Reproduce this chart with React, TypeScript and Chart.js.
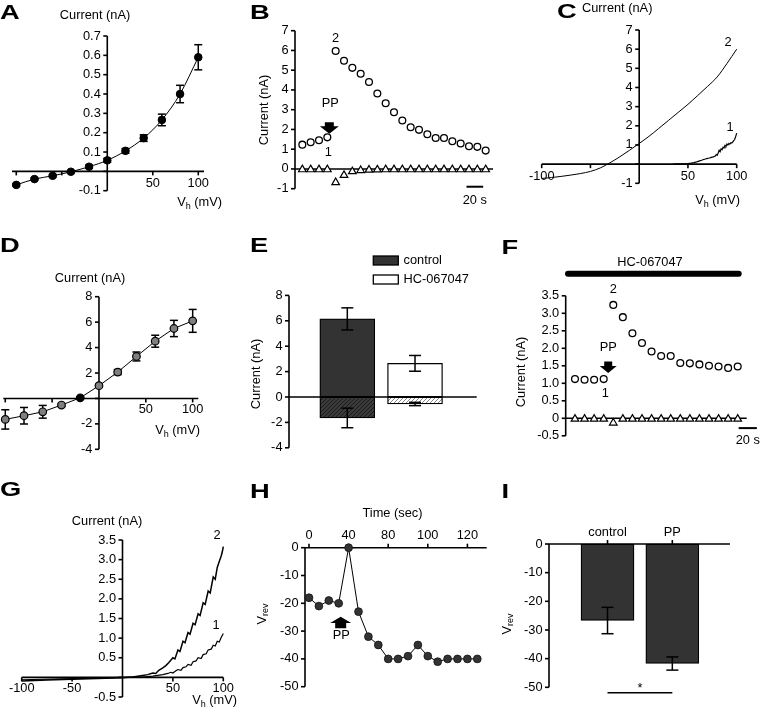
import React, { useEffect, useRef } from 'react';
import { Chart, registerables } from 'chart.js';

Chart.register(...registerables);

const FF = '"Liberation Sans", Arial, Helvetica, sans-serif';
const FS = 12.8;

// ---------------- Panel A ----------------
const aVoltage = [-100, -80, -60, -40, -20, 0, 20, 40, 60, 80, 100];
const aCurrent = [-0.07, -0.04, -0.023, -0.002, 0.024, 0.057, 0.106, 0.172, 0.266, 0.4, 0.59];
const aError = [0.006, 0.006, 0.006, 0.006, 0.008, 0.01, 0.012, 0.017, 0.03, 0.045, 0.065];
const aYTicks = [-0.1, 0, 0.1, 0.2, 0.3, 0.4, 0.5, 0.6, 0.7];
const aYLabels = ['-0.1', '', '0.1', '0.2', '0.3', '0.4', '0.5', '0.6', '0.7'];
const aXTicks = [-100, -50, 50, 100];
const aXLabels = ['', '', '50', '100'];

// ---------------- Panel B ----------------
const bTime = [0, 10, 20, 30, 40, 50, 60, 70, 80, 90, 100, 110, 120, 130, 140, 150, 160, 170, 180, 190, 200, 210, 220];
const bOutward = [1.23, 1.35, 1.45, 1.6, 5.97, 5.48, 5.12, 4.82, 4.4, 3.82, 3.33, 2.87, 2.45, 2.11, 1.98, 1.76, 1.57, 1.57, 1.4, 1.29, 1.15, 1.12, 0.93];
const bInward = [-0.03, -0.03, -0.03, -0.03, -0.68, -0.32, -0.13, -0.07, -0.05, -0.04, -0.03, -0.03, -0.03, -0.03, -0.03, -0.03, -0.03, -0.03, -0.03, -0.03, -0.03, -0.03, -0.03];
const bYTicks = [-1, 0, 1, 2, 3, 4, 5, 6, 7];
const bYLabels = ['-1', '0', '1', '2', '3', '4', '5', '6', '7'];

// ---------------- Panel C ----------------
const cVoltage2 = [-100, -90, -80, -70, -60, -50, -40, -30, -20, -10, 0, 10, 20, 30, 40, 50, 60, 70, 80, 90, 100];
const cCurrent2 = [-0.75, -0.7, -0.64, -0.57, -0.49, -0.38, -0.2, 0.07, 0.38, 0.72, 1.08, 1.45, 1.86, 2.28, 2.7, 3.12, 3.58, 4.05, 4.55, 5.25, 6.0];
const cVoltage1 = [35, 40, 45, 50, 53, 56, 59, 62, 64, 66, 68, 70, 72, 74, 76, 78, 79, 80, 81, 82, 83, 84, 85, 86, 87, 88, 89, 90, 91, 92, 93, 94, 95, 96, 97, 98, 99, 100];
const cCurrent1 = [0, 0.01, 0.01, 0.03, 0.05, 0.08, 0.12, 0.17, 0.2, 0.24, 0.27, 0.3, 0.32, 0.35, 0.38, 0.42, 0.5, 0.46, 0.58, 0.72, 0.65, 0.8, 0.75, 0.88, 0.84, 0.98, 0.93, 1.05, 1.0, 1.08, 1.04, 1.12, 1.1, 1.16, 1.22, 1.3, 1.45, 1.62];
const cYTicks = [-1, 0, 1, 2, 3, 4, 5, 6, 7];
const cYLabels = ['-1', '', '1', '2', '3', '4', '5', '6', '7'];
const cXTicks = [-100, -50, 50, 100];
const cXLabels = ['-100', '', '50', '100'];

// ---------------- Panel D ----------------
const dVoltage = [-100, -80, -60, -40, -20, 0, 20, 40, 60, 80, 100];
const dCurrent = [-1.65, -1.36, -1.05, -0.52, 0.05, 1.0, 2.07, 3.3, 4.5, 5.5, 6.1];
const dError = [0.76, 0.65, 0.5, 0.12, 0.05, 0.12, 0.2, 0.35, 0.47, 0.64, 0.9];
const dYTicks = [-4, -2, 0, 2, 4, 6, 8];
const dYLabels = ['-4', '-2', '', '2', '4', '6', '8'];
const dXTicks = [-100, -50, 50, 100];
const dXLabels = ['', '', '50', '100'];

// ---------------- Panel E ----------------
const eGroups = ['control', 'HC-067047'];
const eOutward = [6.15, 2.65];
const eOutwardErr = [0.87, 0.62];
const eInward = [-1.65, -0.55];
const eInwardErr = [0.77, 0.13];
const eYTicks = [-4, -2, 0, 2, 4, 6, 8];
const eYLabels = ['-4', '-2', '0', '2', '4', '6', '8'];

// ---------------- Panel F ----------------
const fTime = [0, 10, 20, 30, 40, 50, 60, 70, 80, 90, 100, 110, 120, 130, 140, 150, 160, 170];
const fOutward = [1.12, 1.1, 1.1, 1.12, 3.24, 2.89, 2.43, 2.15, 1.91, 1.78, 1.78, 1.58, 1.57, 1.54, 1.5, 1.48, 1.44, 1.48];
const fInward = [-0.02, -0.02, -0.02, -0.02, -0.13, -0.02, -0.02, -0.02, -0.02, -0.02, -0.02, -0.02, -0.02, -0.02, -0.02, -0.02, -0.02, -0.02];
const fYTicks = [-0.5, 0, 0.5, 1, 1.5, 2, 2.5, 3, 3.5];
const fYLabels = ['-0.5', '0', '0.5', '1.0', '1.5', '2.0', '2.5', '3.0', '3.5'];

// ---------------- Panel G ----------------
const gVoltage2 = [-100, -75, -50, -25, 0, 10, 20, 25, 30, 33, 36, 40, 43, 46, 50, 52, 55, 57, 60, 62, 65, 67, 70, 72, 75, 77, 80, 82, 85, 87, 90, 92, 94, 96, 98, 99, 100];
const gCurrent2 = [-0.09, -0.07, -0.05, -0.03, -0.01, 0.01, 0.05, 0.07, 0.11, 0.1, 0.18, 0.24, 0.3, 0.38, 0.5, 0.47, 0.7, 0.66, 0.92, 0.88, 1.14, 1.1, 1.38, 1.34, 1.62, 1.58, 1.9, 1.86, 2.2, 2.15, 2.56, 2.5, 2.8, 2.95, 3.1, 3.2, 3.33];
const gVoltage1 = [-100, -50, 0, 10, 20, 25, 30, 35, 40, 45, 48, 50, 53, 55, 58, 60, 63, 65, 68, 70, 73, 75, 78, 80, 83, 85, 88, 90, 92, 94, 96, 98, 100];
const gCurrent1 = [-0.06, -0.03, 0, 0.005, 0.01, 0.02, 0.03, 0.05, 0.07, 0.1, 0.13, 0.11, 0.17, 0.2, 0.18, 0.25, 0.27, 0.33, 0.31, 0.4, 0.42, 0.5, 0.48, 0.58, 0.6, 0.7, 0.72, 0.82, 0.8, 0.92, 0.9, 1.02, 1.12];
const gYTicks = [-0.5, 0, 0.5, 1, 1.5, 2, 2.5, 3, 3.5];
const gYLabels = ['-0.5', '', '0.5', '1.0', '1.5', '2.0', '2.5', '3.0', '3.5'];
const gXTicks = [-100, -50, 50, 100];
const gXLabels = ['-100', '-50', '50', '100'];

// ---------------- Panel H ----------------
const hTime = [0, 10, 20, 30, 40, 50, 60, 70, 80, 90, 100, 110, 120, 130, 140, 150, 160, 170];
const hVrev = [-18, -21, -19, -20, 0, -23, -32, -35, -40, -40, -39, -35, -39, -41, -40, -40, -40, -40];
const hYTicks = [-50, -40, -30, -20, -10, 0];
const hYLabels = ['-50', '-40', '-30', '-20', '-10', '0'];
const hXTicks = [0, 40, 80, 120, 160];
const hXLabels = ['0', '40', '80', '100', '120'];

// ---------------- Panel I ----------------
const iGroups = ['control', 'PP'];
const iVrev = [-26.7, -41.7];
const iErr = [4.6, 2.3];
const iYTicks = [-50, -40, -30, -20, -10, 0];
const iYLabels = ['-50', '-40', '-30', '-20', '-10', '0'];

// ================= drawing helpers =================
type Ctx = CanvasRenderingContext2D;
type Map = (v: number) => number;
type Draw = (ctx: Ctx, X: Map, Y: Map) => void;
type Part = [string, boolean];

function setFont(ctx: Ctx, size = FS, bold = false) {
  ctx.font = `${bold ? 'bold ' : ''}${size}px ${FF}`;
}
function text(ctx: Ctx, s: string, x: number, y: number, align: CanvasTextAlign = 'center', size = FS, bold = false) {
  setFont(ctx, size, bold);
  ctx.textAlign = align;
  ctx.textBaseline = 'middle';
  ctx.fillStyle = '#000';
  ctx.fillText(s, x, y);
}
function letter(ctx: Ctx, s: string, x: number, y: number) {
  ctx.save();
  ctx.translate(x, y);
  ctx.scale(1.3, 1);
  text(ctx, s, 0, 0, 'left', 21, true);
  ctx.restore();
}
function seg(ctx: Ctx, x1: number, y1: number, x2: number, y2: number, w = 1.6) {
  ctx.beginPath();
  ctx.moveTo(x1, y1);
  ctx.lineTo(x2, y2);
  ctx.lineWidth = w;
  ctx.strokeStyle = '#000';
  ctx.lineCap = 'butt';
  ctx.stroke();
}
function richText(ctx: Ctx, parts: Part[], x: number, y: number, align: 'left' | 'center' | 'right') {
  const widths = parts.map(([s, sub]) => {
    setFont(ctx, sub ? 9 : FS);
    return ctx.measureText(s).width;
  });
  const total = widths.reduce((a, b) => a + b, 0);
  let cx = align === 'left' ? x : align === 'right' ? x - total : x - total / 2;
  ctx.textAlign = 'left';
  ctx.textBaseline = 'alphabetic';
  ctx.fillStyle = '#000';
  parts.forEach(([s, sub], i) => {
    setFont(ctx, sub ? 9 : FS);
    ctx.fillText(s, cx, y + (sub ? 2.5 : 0));
    cx += widths[i];
  });
}
function rotText(ctx: Ctx, parts: Part[], x: number, y: number) {
  ctx.save();
  ctx.translate(x, y);
  ctx.rotate(-Math.PI / 2);
  richText(ctx, parts, 0, 4.5, 'center');
  ctx.restore();
}
const VH: Part[] = [['V', false], ['h', true], [' (mV)', false]];
const VREV: Part[] = [['V', false], ['rev', true]];
const CUR: Part[] = [['Current (nA)', false]];

function leftAxis(ctx: Ctx, X: Map, Y: Map, at: number, ticks: number[], labels: string[], from: number, to: number) {
  const x = X(at);
  seg(ctx, x, Y(from), x, Y(to));
  ticks.forEach((t, i) => {
    const y = Y(t);
    seg(ctx, x - 4, y, x, y);
    if (labels[i]) text(ctx, labels[i], x - 6.5, y, 'right');
  });
}
function bottomAxis(ctx: Ctx, X: Map, Y: Map, at: number, ticks: number[], labels: string[], from: number, to: number, off = 12) {
  const y = Y(at);
  seg(ctx, X(from), y, X(to), y);
  ticks.forEach((t, i) => {
    const x = X(t);
    seg(ctx, x, y, x, y + 4);
    if (labels[i]) text(ctx, labels[i], x, y + off);
  });
}
function topAxis(ctx: Ctx, X: Map, Y: Map, at: number, ticks: number[], labels: string[], from: number, to: number, off = 12.5) {
  const y = Y(at);
  seg(ctx, X(from), y, X(to), y);
  ticks.forEach((t, i) => {
    const x = X(t);
    seg(ctx, x, y - 4, x, y);
    if (labels[i]) text(ctx, labels[i], x, y - off);
  });
}
function errBar(ctx: Ctx, x: number, y1: number, y2: number, cap: number, w = 1.5) {
  seg(ctx, x, y1, x, y2, w);
  seg(ctx, x - cap / 2, y1, x + cap / 2, y1, w);
  seg(ctx, x - cap / 2, y2, x + cap / 2, y2, w);
}
function blockArrow(ctx: Ctx, cx: number, top: number, bottom: number, dir: 'down' | 'up', w = 19, stemW = 9, headH = 7.5) {
  ctx.beginPath();
  if (dir === 'down') {
    const hy = bottom - headH;
    ctx.moveTo(cx - stemW / 2, top);
    ctx.lineTo(cx + stemW / 2, top);
    ctx.lineTo(cx + stemW / 2, hy);
    ctx.lineTo(cx + w / 2, hy);
    ctx.lineTo(cx, bottom);
    ctx.lineTo(cx - w / 2, hy);
    ctx.lineTo(cx - stemW / 2, hy);
  } else {
    const hy = top + headH;
    ctx.moveTo(cx, top);
    ctx.lineTo(cx + w / 2, hy);
    ctx.lineTo(cx + stemW / 2, hy);
    ctx.lineTo(cx + stemW / 2, bottom);
    ctx.lineTo(cx - stemW / 2, bottom);
    ctx.lineTo(cx - stemW / 2, hy);
    ctx.lineTo(cx - w / 2, hy);
  }
  ctx.closePath();
  ctx.fillStyle = '#000';
  ctx.fill();
}
function hatch(bg: string, fg: string): CanvasPattern {
  const c = document.createElement('canvas');
  c.width = 4;
  c.height = 4;
  const g = c.getContext('2d')!;
  g.fillStyle = bg;
  g.fillRect(0, 0, 4, 4);
  g.strokeStyle = fg;
  g.lineWidth = 1;
  g.beginPath();
  g.moveTo(0, 4);
  g.lineTo(4, 0);
  g.moveTo(-1, 1);
  g.lineTo(1, -1);
  g.moveTo(3, 5);
  g.lineTo(5, 3);
  g.stroke();
  return g.createPattern(c, 'repeat')!;
}
const pts = (xs: number[], ys: number[]) => xs.map((x, i) => ({ x, y: ys[i] }));

// ================= panel specs =================
interface PanelSpec {
  rect: { x: number; y: number; w: number; h: number };
  area: { l: number; t: number; r: number; b: number };
  type: 'scatter' | 'bar';
  x: [number, number];
  y: [number, number];
  datasets: () => any[];
  before?: Draw;
  after?: Draw;
}

const openCircle = {
  showLine: false, pointStyle: 'circle', pointRadius: 3.4, pointBorderWidth: 1.3,
  pointBackgroundColor: '#fff', pointBorderColor: '#000', borderColor: '#000', clip: false,
};
const openTriangle = {
  showLine: false, pointStyle: 'triangle', pointRadius: 4.4, pointBorderWidth: 1.2,
  pointBackgroundColor: '#fff', pointBorderColor: '#000', borderColor: '#000', clip: false,
};

const panelA: PanelSpec = {
  rect: { x: 0, y: 0, w: 245, h: 228 },
  area: { l: 12, t: 36, r: 204, b: 190.7 },
  type: 'scatter',
  x: [-104.7, 106.3],
  y: [-0.1, 0.7],
  datasets: () => [{
    data: pts(aVoltage, aCurrent), showLine: true, cubicInterpolationMode: 'monotone',
    borderColor: '#000', borderWidth: 1, pointRadius: 3.8, pointBackgroundColor: '#000',
    pointBorderColor: '#000', pointBorderWidth: 1, clip: false,
  }],
  before: (ctx, X, Y) => {
    leftAxis(ctx, X, Y, 0, aYTicks, aYLabels, -0.1, 0.7);
    bottomAxis(ctx, X, Y, 0, aXTicks, aXLabels, -104.7, 106.3, 12);
    aVoltage.forEach((v, i) => errBar(ctx, X(v), Y(aCurrent[i] + aError[i]), Y(aCurrent[i] - aError[i]), 8));
  },
  after: (ctx) => {
    letter(ctx, 'A', 0, 13);
    text(ctx, 'Current (nA)', 95, 15);
    richText(ctx, VH, 222, 206, 'right');
  },
};

const panelB: PanelSpec = {
  rect: { x: 245, y: 0, w: 255, h: 228 },
  area: { l: 295, t: 30.7, r: 493, b: 188.7 },
  type: 'scatter',
  x: [-8.8, 228.8],
  y: [-1, 7],
  datasets: () => [
    { ...openTriangle, data: pts(bTime, bInward) },
    { ...openCircle, data: pts(bTime, bOutward) },
  ],
  before: (ctx, X, Y) => {
    leftAxis(ctx, X, Y, -8.8, bYTicks, bYLabels, -1, 7);
    seg(ctx, X(-8.8), Y(0), X(228.8), Y(0));
  },
  after: (ctx, X, Y) => {
    letter(ctx, 'B', 250, 13);
    rotText(ctx, CUR, 263, 110);
    const px = X(30), py = Y(bOutward[3]);
    text(ctx, '2', X(40), Y(bOutward[4]) - 13);
    text(ctx, 'PP', px + 3, py - 34);
    blockArrow(ctx, px + 2, py - 15, py - 3.5, 'down');
    text(ctx, '1', px + 1, py + 15);
    seg(ctx, X(197), Y(-0.9), X(217), Y(-0.9), 2);
    text(ctx, '20 s', X(207), Y(-0.9) + 13.5);
  },
};

const panelC: PanelSpec = {
  rect: { x: 500, y: 0, w: 260, h: 228 },
  area: { l: 541.7, t: 30, r: 736.7, b: 183.3 },
  type: 'scatter',
  x: [-100, 100],
  y: [-1, 7],
  datasets: () => [
    { data: pts(cVoltage2, cCurrent2), showLine: true, cubicInterpolationMode: 'monotone', borderColor: '#000', borderWidth: 1, pointRadius: 0, clip: false },
    { data: pts(cVoltage1, cCurrent1), showLine: true, borderColor: '#000', borderWidth: 1.2, pointRadius: 0, clip: false },
  ],
  before: (ctx, X, Y) => {
    leftAxis(ctx, X, Y, 0, cYTicks, cYLabels, -1, 7);
    bottomAxis(ctx, X, Y, 0, cXTicks, cXLabels, -100, 100, 12.7);
  },
  after: (ctx) => {
    letter(ctx, 'C', 557, 12);
    text(ctx, 'Current (nA)', 582, 8.5, 'left');
    text(ctx, '2', 728, 42);
    text(ctx, '1', 730, 127);
    richText(ctx, VH, 740, 204, 'right');
  },
};

const panelD: PanelSpec = {
  rect: { x: 0, y: 228, w: 245, h: 242 },
  area: { l: 3.3, t: 296.7, r: 198.3, b: 449.3 },
  type: 'scatter',
  x: [-102.1, 106],
  y: [-4, 8],
  datasets: () => [{
    data: pts(dVoltage, dCurrent), showLine: true, borderColor: '#000', borderWidth: 1,
    pointRadius: 3.8, pointBorderWidth: 1.2, pointBorderColor: '#000',
    pointBackgroundColor: dVoltage.map((v) => (v === -20 ? '#000' : '#7f7f7f')), clip: false,
  }],
  before: (ctx, X, Y) => {
    leftAxis(ctx, X, Y, 0, dYTicks, dYLabels, -4, 8);
    bottomAxis(ctx, X, Y, 0, dXTicks, dXLabels, -102.1, 106, 11.5);
    dVoltage.forEach((v, i) => errBar(ctx, X(v), Y(dCurrent[i] + dError[i]), Y(dCurrent[i] - dError[i]), 8));
  },
  after: (ctx) => {
    letter(ctx, 'D', 0, 246);
    text(ctx, 'Current (nA)', 90, 278);
    richText(ctx, VH, 200, 434, 'right');
  },
};

const panelE: PanelSpec = {
  rect: { x: 245, y: 228, w: 255, h: 242 },
  area: { l: 289, t: 295.4, r: 476.7, b: 447.8 },
  type: 'bar',
  x: [0.139, 2.911],
  y: [-4, 8],
  datasets: () => [
    {
      data: pts([1, 2], eOutward), backgroundColor: ['#333333', '#ffffff'], borderColor: '#000',
      borderWidth: 1.3, borderSkipped: false, barThickness: 55, grouped: false, clip: false,
    },
    {
      data: pts([1, 2], eInward), backgroundColor: [hatch('#3a3a3a', '#1c1c1c'), hatch('#ffffff', '#8a8a8a')],
      borderColor: '#000', borderWidth: 1.3, borderSkipped: false, barThickness: 55, grouped: false, clip: false,
    },
  ],
  after: (ctx, X, Y) => {
    leftAxis(ctx, X, Y, 0.139, eYTicks, eYLabels, -4, 8);
    seg(ctx, X(0.139), Y(0), X(2.911), Y(0), 1.3);
    [1, 2].forEach((x, i) => {
      errBar(ctx, X(x), Y(eOutward[i] + eOutwardErr[i]), Y(eOutward[i] - eOutwardErr[i]), 12);
      errBar(ctx, X(x), Y(eInward[i] + eInwardErr[i]), Y(eInward[i] - eInwardErr[i]), 12);
    });
    letter(ctx, 'E', 250, 246);
    rotText(ctx, CUR, 255.5, 374);
    const sw = ['#333333', '#ffffff'];
    eGroups.forEach((g, i) => {
      const y = 256 + i * 19;
      ctx.fillStyle = sw[i];
      ctx.fillRect(373.3, y, 25, 9);
      ctx.lineWidth = 1.3;
      ctx.strokeStyle = '#000';
      ctx.strokeRect(373.3, y, 25, 9);
      text(ctx, g, 403.5, y + 4.5, 'left');
    });
  },
};

const panelF: PanelSpec = {
  rect: { x: 500, y: 228, w: 260, h: 242 },
  area: { l: 565.7, t: 295.8, r: 746.7, b: 435.8 },
  type: 'scatter',
  x: [-9.7, 179.4],
  y: [-0.5, 3.5],
  datasets: () => [
    { ...openTriangle, data: pts(fTime, fInward) },
    { ...openCircle, data: pts(fTime, fOutward) },
  ],
  before: (ctx, X, Y) => {
    leftAxis(ctx, X, Y, -9.7, fYTicks, fYLabels, -0.5, 3.5);
    seg(ctx, X(-9.7), Y(0), X(179.4), Y(0));
  },
  after: (ctx, X, Y) => {
    letter(ctx, 'F', 501.5, 248);
    text(ctx, 'HC-067047', 650, 262);
    ctx.beginPath();
    ctx.moveTo(568, 273.7);
    ctx.lineTo(738.7, 273.7);
    ctx.lineWidth = 6;
    ctx.lineCap = 'round';
    ctx.strokeStyle = '#000';
    ctx.stroke();
    rotText(ctx, CUR, 520, 372);
    const px = X(30), py = Y(fOutward[3]);
    text(ctx, '2', X(40), Y(fOutward[4]) - 15);
    text(ctx, 'PP', px + 4.5, py - 32);
    blockArrow(ctx, px + 4.5, py - 17.5, py - 6, 'down', 17, 8, 7);
    text(ctx, '1', px + 1.5, py + 14);
    seg(ctx, X(171), Y(-0.28), X(190), Y(-0.28), 2);
    text(ctx, '20 s', X(180.5), Y(-0.28) + 12.5);
  },
};

const panelG: PanelSpec = {
  rect: { x: 0, y: 470, w: 245, h: 243 },
  area: { l: 21.7, t: 540, r: 223.3, b: 697 },
  type: 'scatter',
  x: [-100, 100],
  y: [-0.5, 3.5],
  datasets: () => [
    { data: pts(gVoltage2, gCurrent2), showLine: true, borderColor: '#000', borderWidth: 1.5, pointRadius: 0, clip: false },
    { data: pts(gVoltage1, gCurrent1), showLine: true, borderColor: '#000', borderWidth: 1.2, pointRadius: 0, clip: false },
  ],
  before: (ctx, X, Y) => {
    leftAxis(ctx, X, Y, 0, gYTicks, gYLabels, -0.5, 3.5);
    bottomAxis(ctx, X, Y, 0, gXTicks, gXLabels, -100, 100, 11.5);
  },
  after: (ctx) => {
    letter(ctx, 'G', 0, 490);
    text(ctx, 'Current (nA)', 107, 521);
    text(ctx, '2', 217, 535);
    text(ctx, '1', 216, 625);
    richText(ctx, VH, 237, 704, 'right');
  },
};

const panelH: PanelSpec = {
  rect: { x: 245, y: 470, w: 255, h: 243 },
  area: { l: 305, t: 547.7, r: 486.7, b: 686.7 },
  type: 'scatter',
  x: [-4.04, 179.5],
  y: [-50, 0],
  datasets: () => [{
    data: pts(hTime, hVrev), showLine: true, borderColor: '#000', borderWidth: 1,
    pointRadius: 3.9, pointBackgroundColor: '#333', pointBorderColor: '#111', pointBorderWidth: 0.8, clip: false,
  }],
  before: (ctx, X, Y) => {
    leftAxis(ctx, X, Y, -4.04, hYTicks, hYLabels, -50, 0);
    topAxis(ctx, X, Y, 0, hXTicks, hXLabels, -4.04, 179.5, 12.7);
  },
  after: (ctx, X) => {
    letter(ctx, 'H', 250, 492);
    text(ctx, 'Time (sec)', 392.5, 513);
    rotText(ctx, VREV, 261, 614);
    blockArrow(ctx, X(32), 616.7, 628.3, 'up', 21, 11, 6.2);
    text(ctx, 'PP', X(32.5), 635.5);
  },
};

const panelI: PanelSpec = {
  rect: { x: 500, y: 470, w: 260, h: 243 },
  area: { l: 549, t: 544, r: 730, b: 687.3 },
  type: 'bar',
  x: [0.097, 2.89],
  y: [-50, 0],
  datasets: () => [{
    data: pts([1, 2], iVrev), backgroundColor: '#333333', borderColor: '#000', borderWidth: 1.3,
    borderSkipped: false, barThickness: 53, grouped: false, clip: false,
  }],
  after: (ctx, X, Y) => {
    leftAxis(ctx, X, Y, 0.097, iYTicks, iYLabels, -50, 0);
    topAxis(ctx, X, Y, 0, [1, 2], iGroups, 0.097, 2.89, 12);
    [1, 2].forEach((x, i) => errBar(ctx, X(x), Y(iVrev[i] + iErr[i]), Y(iVrev[i] - iErr[i]), 12));
    seg(ctx, X(1), 692.7, X(2), 692.7, 1.6);
    text(ctx, '*', X(1.5), 688);
    letter(ctx, 'I', 501.5, 492);
    rotText(ctx, VREV, 506, 624);
  },
};

const panels: PanelSpec[] = [panelA, panelB, panelC, panelD, panelE, panelF, panelG, panelH, panelI];

function Panel({ spec }: { spec: PanelSpec }) {
  const ref = useRef<HTMLCanvasElement | null>(null);
  useEffect(() => {
    const { rect, area } = spec;
    const wrap = (fn?: Draw) => (chart: any) => {
      if (!fn) return;
      const ctx = chart.ctx as Ctx;
      const sx = chart.scales.x;
      const sy = chart.scales.y;
      const X = (v: number) => sx.getPixelForValue(v) + rect.x;
      const Y = (v: number) => sy.getPixelForValue(v) + rect.y;
      ctx.save();
      ctx.translate(-rect.x, -rect.y);
      fn(ctx, X, Y);
      ctx.restore();
    };
    const chart = new Chart(ref.current as HTMLCanvasElement, {
      type: spec.type,
      data: { datasets: spec.datasets() },
      options: {
        responsive: false,
        animation: false,
        devicePixelRatio: 1,
        events: [],
        layout: {
          autoPadding: false,
          padding: {
            left: area.l - rect.x,
            top: area.t - rect.y,
            right: rect.x + rect.w - area.r,
            bottom: rect.y + rect.h - area.b,
          },
        },
        plugins: { legend: { display: false }, tooltip: { enabled: false } },
        scales: {
          x: { type: 'linear', display: false, min: spec.x[0], max: spec.x[1], offset: false },
          y: { type: 'linear', display: false, min: spec.y[0], max: spec.y[1] },
        },
      },
      plugins: [{ id: 'deco', beforeDatasetsDraw: wrap(spec.before), afterDatasetsDraw: wrap(spec.after) }],
    } as any);
    return () => chart.destroy();
  }, [spec]);
  return (
    <canvas
      ref={ref}
      width={spec.rect.w}
      height={spec.rect.h}
      style={{ position: 'absolute', left: spec.rect.x, top: spec.rect.y, width: spec.rect.w, height: spec.rect.h }}
    />
  );
}

export default function App() {
  return (
    <div style={{ position: 'absolute', left: 0, top: 0, width: 760, height: 713, background: '#fff', overflow: 'hidden' }}>
      {panels.map((p, i) => (
        <Panel key={i} spec={p} />
      ))}
    </div>
  );
}
